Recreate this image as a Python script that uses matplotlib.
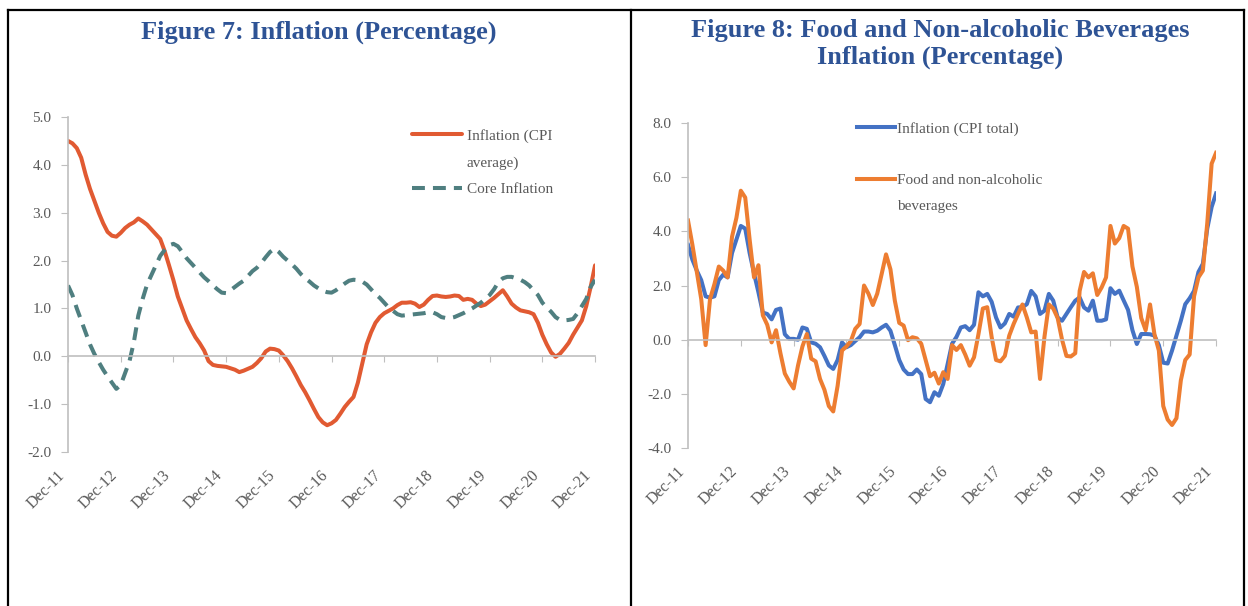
import matplotlib.pyplot as plt
from matplotlib.lines import Line2D
from matplotlib.ticker import FormatStrFormatter
import numpy as np

plt.rcParams['font.family'] = ['Liberation Serif', 'DejaVu Serif']
plt.rcParams['axes.unicode_minus'] = False

year_labels = ['Dec-11', 'Dec-12', 'Dec-13', 'Dec-14', 'Dec-15', 'Dec-16',
               'Dec-17', 'Dec-18', 'Dec-19', 'Dec-20', 'Dec-21']

# Figure 7, monthly Dec-11 .. Dec-21
cpi_average = [
    4.50, 4.45, 4.35, 4.15, 3.80, 3.50, 3.25, 3.00, 2.78, 2.60, 2.52, 2.50,
    2.58, 2.68, 2.75, 2.80, 2.88, 2.82, 2.75, 2.65, 2.55, 2.45, 2.20, 1.90,
    1.59, 1.25, 1.00, 0.75, 0.57, 0.40, 0.27, 0.12, -0.10, -0.18, -0.20, -0.21,
    -0.22, -0.25, -0.28, -0.33, -0.30, -0.26, -0.22, -0.14, -0.04, 0.10, 0.16, 0.15,
    0.12, 0.02, -0.10, -0.25, -0.42, -0.60, -0.75, -0.92, -1.10, -1.27, -1.38, -1.44,
    -1.40, -1.33, -1.20, -1.06, -0.95, -0.85, -0.55, -0.15, 0.25, 0.50, 0.70, 0.82,
    0.90, 0.95, 1.00, 1.07, 1.12, 1.12, 1.13, 1.10, 1.03, 1.08, 1.18, 1.26,
    1.27, 1.25, 1.24, 1.25, 1.27, 1.26, 1.18, 1.20, 1.18, 1.10, 1.05, 1.08,
    1.15, 1.22, 1.30, 1.38, 1.25, 1.10, 1.02, 0.96, 0.94, 0.92, 0.88, 0.70,
    0.45, 0.25, 0.08, -0.01, 0.05, 0.16, 0.28, 0.45, 0.60, 0.75, 1.05, 1.45,
    1.90]
core_inflation = [
    1.48, 1.28, 1.00, 0.75, 0.50, 0.25, 0.05, -0.12, -0.28, -0.42, -0.55, -0.68,
    -0.60, -0.35, -0.10, 0.30, 0.85, 1.20, 1.50, 1.70, 1.90, 2.10, 2.22, 2.32,
    2.35, 2.30, 2.18, 2.05, 1.95, 1.85, 1.75, 1.65, 1.57, 1.48, 1.40, 1.33,
    1.32, 1.38, 1.45, 1.52, 1.58, 1.68, 1.78, 1.85, 1.95, 2.07, 2.18, 2.25,
    2.18, 2.08, 2.00, 1.92, 1.83, 1.72, 1.63, 1.56, 1.48, 1.42, 1.37, 1.34,
    1.33, 1.38, 1.45, 1.52, 1.58, 1.60, 1.59, 1.56, 1.50, 1.40, 1.30, 1.22,
    1.12, 1.02, 0.95, 0.88, 0.85, 0.86, 0.87, 0.88, 0.89, 0.90, 0.92, 0.92,
    0.88, 0.82, 0.80, 0.80, 0.82, 0.86, 0.90, 0.95, 1.00, 1.06, 1.12, 1.20,
    1.28, 1.40, 1.55, 1.63, 1.66, 1.66, 1.63, 1.60, 1.55, 1.48, 1.38, 1.28,
    1.12, 1.02, 0.93, 0.82, 0.76, 0.75, 0.76, 0.78, 0.90, 1.05, 1.20, 1.45,
    1.60]

# Figure 8, monthly Dec-11 .. Dec-21
cpi_total = [
    3.50, 2.95, 2.55, 2.20, 1.60, 1.55, 1.60, 2.20, 2.40, 2.30, 3.20, 3.70,
    4.20, 4.10, 3.20, 2.45, 1.75, 1.00, 0.95, 0.75, 1.10, 1.15, 0.20, 0.03,
    0.03, 0.00, 0.45, 0.40, -0.10, -0.15, -0.28, -0.60, -0.95, -1.08, -0.75, -0.10,
    -0.28, -0.20, -0.05, 0.09, 0.30, 0.30, 0.27, 0.33, 0.45, 0.55, 0.33, -0.20,
    -0.75, -1.10, -1.27, -1.27, -1.10, -1.27, -2.19, -2.31, -1.94, -2.07, -1.64, -0.90,
    -0.15, 0.10, 0.45, 0.50, 0.35, 0.55, 1.75, 1.60, 1.69, 1.40, 0.82, 0.45,
    0.60, 0.95, 0.85, 1.19, 1.20, 1.31, 1.80, 1.60, 0.95, 1.07, 1.69, 1.44,
    0.82, 0.70, 0.95, 1.20, 1.44, 1.56, 1.19, 1.07, 1.44, 0.70, 0.70, 0.75,
    1.90, 1.69, 1.81, 1.45, 1.10, 0.35, -0.16, 0.21, 0.21, 0.20, 0.15, -0.20,
    -0.85, -0.88, -0.40, 0.15, 0.70, 1.31, 1.53, 1.80, 2.50, 2.80, 4.10, 4.90,
    5.40]
food_beverages = [
    4.40, 3.50, 2.50, 1.50, -0.20, 1.50, 2.05, 2.70, 2.55, 2.30, 3.80, 4.50,
    5.50, 5.25, 3.70, 2.30, 2.75, 0.90, 0.55, -0.10, 0.35, -0.50, -1.25, -1.55,
    -1.80, -0.95, -0.25, 0.21, -0.70, -0.80, -1.45, -1.85, -2.45, -2.65, -1.70, -0.40,
    -0.25, -0.05, 0.40, 0.58, 2.00, 1.70, 1.28, 1.70, 2.42, 3.15, 2.60, 1.44,
    0.62, 0.52, -0.02, 0.09, 0.05, -0.15, -0.75, -1.35, -1.22, -1.62, -1.20, -1.45,
    -0.20, -0.38, -0.20, -0.55, -0.96, -0.65, 0.20, 1.15, 1.20, 0.10, -0.75, -0.80,
    -0.60, 0.15, 0.58, 0.95, 1.30, 0.82, 0.27, 0.30, -1.45, 0.10, 1.30, 1.15,
    0.80, 0.00, -0.60, -0.62, -0.50, 1.80, 2.50, 2.30, 2.45, 1.65, 1.93, 2.30,
    4.20, 3.55, 3.75, 4.20, 4.10, 2.70, 1.95, 0.80, 0.35, 1.30, 0.20, -0.40,
    -2.45, -2.95, -3.15, -2.90, -1.50, -0.75, -0.55, 1.60, 2.30, 2.55, 4.30, 6.50,
    6.90]

months = np.arange(len(cpi_average))
tick_pos = months[::12]

AXIS_GREY = '#BFBFBF'
TEXT_GREY = '#595959'
TITLE_BLUE = '#2E5395'

fig = plt.figure(figsize=(12.48, 6.06), dpi=100)


def style_axes(ax, ylim, yticks):
    ax.set_xlim(months[0], months[-1])
    ax.set_ylim(*ylim)
    ax.set_yticks(yticks)
    ax.yaxis.set_major_formatter(FormatStrFormatter('%.1f'))
    for side in ['top', 'right']:
        ax.spines[side].set_visible(False)
    ax.spines['left'].set_color(AXIS_GREY)
    ax.spines['left'].set_linewidth(1.2)
    ax.spines['bottom'].set_position(('data', 0))
    ax.spines['bottom'].set_color(AXIS_GREY)
    ax.spines['bottom'].set_linewidth(1.2)
    ax.set_xticks(tick_pos)
    ax.tick_params(axis='x', length=4, color=AXIS_GREY, labelbottom=False)
    ax.tick_params(axis='y', length=5, color=AXIS_GREY, pad=7,
                   labelsize=11, labelcolor=TEXT_GREY)
    sec = ax.secondary_xaxis(0)
    sec.set_xticks(tick_pos, labels=year_labels)
    sec.spines['bottom'].set_visible(False)
    sec.tick_params(length=0, pad=11, labelsize=11.5, labelcolor=TEXT_GREY)
    for lab in sec.get_xticklabels():
        lab.set_rotation(45)
        lab.set_ha('right')


# Figure 7
ax1 = fig.add_axes([0.0545, 0.2541, 0.4223, 0.5528])
style_axes(ax1, (-2, 5), np.arange(-2, 6, 1))
l_cpi, = ax1.plot(months, cpi_average, color='#E15A32', lw=2.9,
                  solid_capstyle='round')
l_core, = ax1.plot(months, core_inflation, color='#4F7F80', lw=2.9,
                   dashes=(3.2, 2.0))
blank = Line2D([], [], color='none')
ax1.legend([l_cpi, blank, l_core], ['Inflation (CPI', 'average)', 'Core Inflation'],
           loc='upper left', bbox_to_anchor=(0.652, 0.965), frameon=False,
           fontsize=11, labelcolor=TEXT_GREY, handlelength=3.3,
           handletextpad=0.3, labelspacing=0.85, borderpad=0, borderaxespad=0)

# Figure 8
ax2 = fig.add_axes([0.5513, 0.2607, 0.4231, 0.5363])
style_axes(ax2, (-4, 8), np.arange(-4, 9, 2))
l_tot, = ax2.plot(months, cpi_total, color='#4472C4', lw=2.9)
l_food, = ax2.plot(months, food_beverages, color='#ED7D31', lw=2.9)
ax2.legend([l_tot, blank, l_food, blank],
           ['Inflation (CPI total)', ' ', 'Food and non-alcoholic', 'beverages'],
           loc='upper left', bbox_to_anchor=(0.32, 1.003), frameon=False,
           fontsize=11, labelcolor=TEXT_GREY, handlelength=2.5,
           handletextpad=0.15, labelspacing=0.78, borderpad=0, borderaxespad=0)

# titles
fig.text(319 / 1248, 1 - 32 / 606, 'Figure 7: Inflation (Percentage)',
         ha='center', va='center', fontsize=19, fontweight='bold', color=TITLE_BLUE)
fig.text(940 / 1248, 1 - 44 / 606,
         'Figure 8: Food and Non-alcoholic Beverages\nInflation (Percentage)',
         ha='center', va='center', fontsize=19, fontweight='bold',
         color=TITLE_BLUE, linespacing=1.2)

# table frame
frame = dict(color='black', lw=1.6, transform=fig.transFigure)
fig.add_artist(Line2D([8 / 1248, 1244 / 1248], [1 - 10 / 606, 1 - 10 / 606], **frame))
for xp in [8, 631, 1244]:
    fig.add_artist(Line2D([xp / 1248, xp / 1248], [0, 1 - 10 / 606], **frame))

fig.savefig('out.png', dpi=100)
